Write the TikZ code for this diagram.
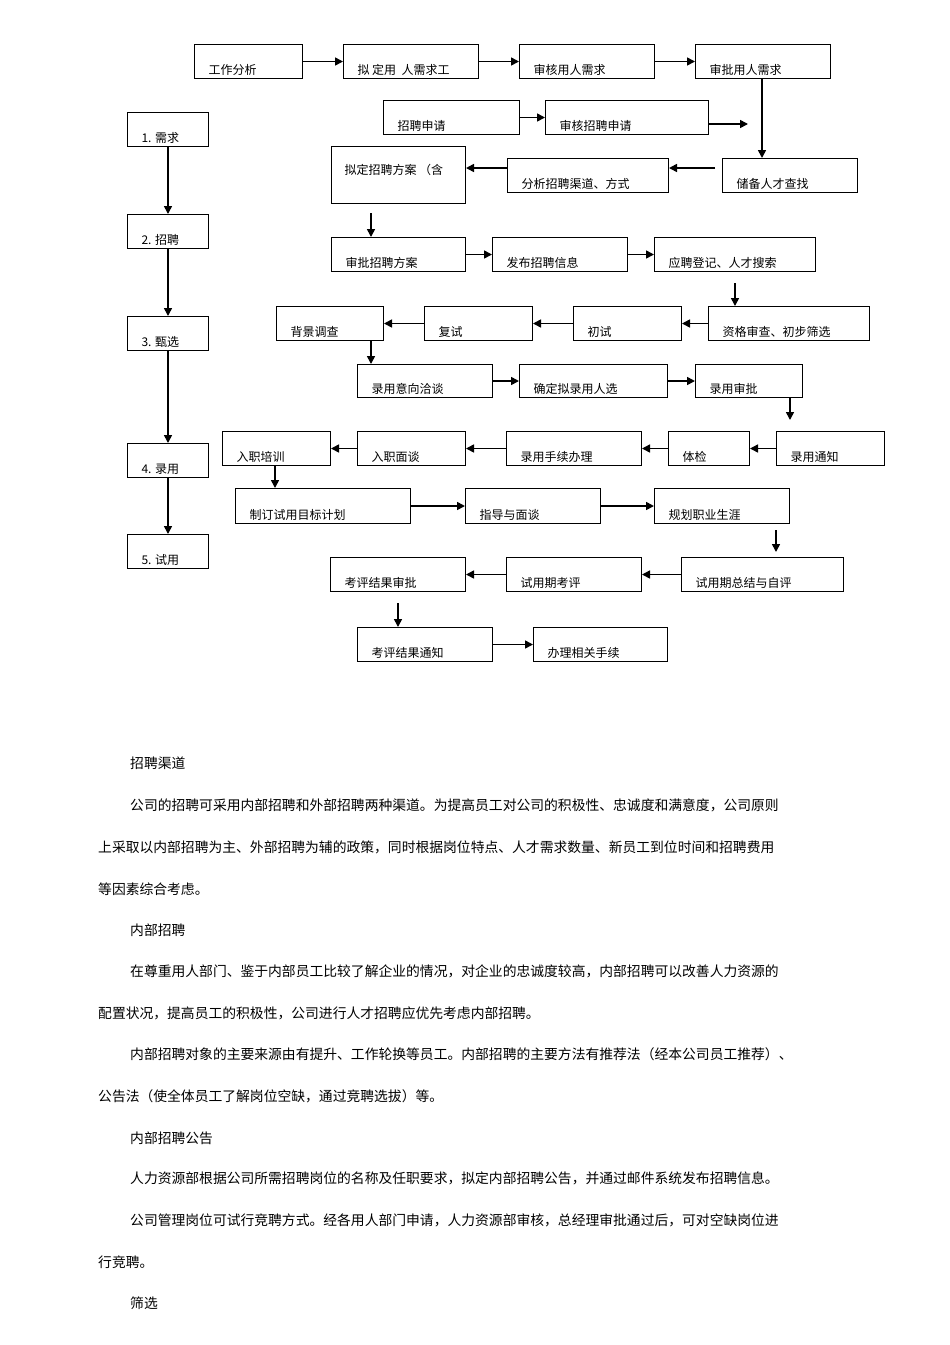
\documentclass[tikz,border=0pt]{standalone}
\usepackage{fontspec}
\setmainfont{Noto Sans CJK SC}
\usetikzlibrary{calc,arrows.meta}
\newcommand\bx[6]{%
  \node[box,minimum width=#4-#2,minimum height=#5-#3,anchor=north west] (#1) at (#2,#3) {};
  \node[anchor=base west,font=\fontsize{12}{13}\selectfont] (#1t) at ($(#1.south west)+(11,-5)$) {#6};}
\newcommand\txtline[3]{\node[anchor=base west,font=\fontsize{13.8}{15}\selectfont,inner sep=0] (p#1) at (#2,#1) {#3};}
\begin{document}
\begin{tikzpicture}[x=1pt,y=-1pt,
  box/.style={draw,line width=1pt,inner sep=0},
  ar/.style={line width=1.6pt,-{Triangle[length=8pt,width=8pt]}}]
\useasboundingbox (0,0) rectangle (950,1345);
\fill[white] (0,0) rectangle (950,1345);
\bx{a1}{194}{44}{302}{78}{工作分析}
\bx{a2}{343}{44}{478}{78}{拟 定用 \ 人需求工}
\bx{a3}{519}{44}{654}{78}{审核用人需求}
\bx{a4}{695}{44}{830}{78}{审批用人需求}
\bx{b1}{383}{100}{519}{134}{招聘申请}
\bx{b2}{545}{100}{708}{134}{审核招聘申请}
\bx{c1}{331}{146}{465}{203}{}
\node[anchor=base west,font=\fontsize{12}{13}\selectfont] at (341,174) {拟定招聘方案 （含};
\bx{c2}{507}{158}{668}{192}{分析招聘渠道、方式}
\bx{c3}{722}{158}{857}{192}{储备人才查找}
\bx{d1}{331}{237}{465}{271}{审批招聘方案}
\bx{d2}{492}{237}{627}{271}{发布招聘信息}
\bx{d3}{654}{237}{815}{271}{应聘登记、人才搜索}
\bx{e1}{276}{306}{383}{340}{背景调查}
\bx{e2}{424}{306}{532}{340}{复试}
\bx{e3}{573}{306}{681}{340}{初试}
\bx{e4}{708}{306}{869}{340}{资格审查、初步筛选}
\bx{f1}{357}{364}{492}{397}{录用意向洽谈}
\bx{f2}{519}{364}{667}{397}{确定拟录用人选}
\bx{f3}{695}{364}{802}{397}{录用审批}
\bx{g1}{222}{431}{330}{465}{入职培训}
\bx{g2}{357}{431}{465}{465}{入职面谈}
\bx{g3}{506}{431}{641}{465}{录用手续办理}
\bx{g4}{668}{431}{749}{465}{体检}
\bx{g5}{776}{431}{884}{465}{录用通知}
\bx{h1}{235}{488}{410}{523}{制订试用目标计划}
\bx{h2}{465}{488}{600}{523}{指导与面谈}
\bx{h3}{654}{488}{789}{523}{规划职业生涯}
\bx{i1}{330}{557}{465}{591}{考评结果审批}
\bx{i2}{506}{557}{641}{591}{试用期考评}
\bx{i3}{681}{557}{843}{591}{试用期总结与自评}
\bx{j1}{357}{627}{492}{661}{考评结果通知}
\bx{j2}{533}{627}{667}{661}{办理相关手续}
\bx{s1}{127}{112}{208}{146}{1. 需求}
\bx{s2}{127}{214}{208}{248}{2. 招聘}
\bx{s3}{127}{316}{208}{350}{3. 甄选}
\bx{s4}{127}{443}{208}{477}{4. 录用}
\bx{s5}{127}{534}{208}{568}{5. 试用}
% connectors
\draw[ar] (a1.east) -- (a2.west);
\draw[ar] (a2.east) -- (a3.west);
\draw[ar] (a3.east) -- (a4.west);
\draw[ar] (b1.east) -- (b2.west);
\coordinate (bf) at (748,124);
\draw[ar] (b2.east|-bf) -- (bf);
\draw[ar] (762,78) -- (762,158);
\coordinate (cf) at (715,168);
\draw[ar] (cf) -- (c2.east|-cf);
\draw[ar] (c2.west|-cf) -- (c1.east|-cf);
\coordinate (c1f) at (371,213);
\draw[ar] (c1f) -- (371,237);
\draw[ar] (d1.east) -- (d2.west);
\draw[ar] (d2.east) -- (d3.west);
\coordinate (df) at (735,283);
\draw[ar] (df) -- (735,306);
\draw[ar] (e4.west) -- (e3.east);
\draw[ar] (e3.west) -- (e2.east);
\draw[ar] (e2.west) -- (e1.east);
\draw[ar] (371,340) -- (371,364);
\draw[ar] (f1.east) -- (f2.west);
\draw[ar] (f2.east) -- (f3.west);
\coordinate (ff) at (790,420);
\draw[ar] (790,397) -- (ff);
\draw[ar] (g5.west) -- (g4.east);
\draw[ar] (g4.west) -- (g3.east);
\draw[ar] (g3.west) -- (g2.east);
\draw[ar] (g2.west) -- (g1.east);
\draw[ar] (275,465) -- (275,488);
\draw[ar] (h1.east) -- (h2.west);
\draw[ar] (h2.east) -- (h3.west);
\coordinate (hf) at (776,530);
\draw[ar] (hf) -- (776,552);
\draw[ar] (i3.west) -- (i2.east);
\draw[ar] (i2.west) -- (i1.east);
\coordinate (if) at (398,603);
\draw[ar] (if) -- (398,627);
\draw[ar] (j1.east) -- (j2.west);
\draw[ar] (s1.south) -- (s2.north);
\draw[ar] (s2.south) -- (s3.north);
\draw[ar] (s3.south) -- (s4.north);
\draw[ar] (s4.south) -- (s5.north);
% text
\txtline{768}{130}{招聘渠道}
\txtline{810}{130}{公司的招聘可采用内部招聘和外部招聘两种渠道。为提高员工对公司的积极性、忠诚度和满意度，公司原则}
\txtline{852}{98}{上采取以内部招聘为主、外部招聘为辅的政策，同时根据岗位特点、人才需求数量、新员工到位时间和招聘费用}
\txtline{894}{98}{等因素综合考虑。}
\txtline{935}{130}{内部招聘}
\txtline{976}{130}{在尊重用人部门、鉴于内部员工比较了解企业的情况，对企业的忠诚度较高，内部招聘可以改善人力资源的}
\txtline{1018}{98}{配置状况，提高员工的积极性，公司进行人才招聘应优先考虑内部招聘。}
\txtline{1059}{130}{内部招聘对象的主要来源由有提升、工作轮换等员工。内部招聘的主要方法有推荐法（经本公司员工推荐）、}
\txtline{1101}{98}{公告法（使全体员工了解岗位空缺，通过竞聘选拔）等。}
\txtline{1143}{130}{内部招聘公告}
\txtline{1183}{130}{人力资源部根据公司所需招聘岗位的名称及任职要求，拟定内部招聘公告，并通过邮件系统发布招聘信息。}
\txtline{1225}{130}{公司管理岗位可试行竞聘方式。经各用人部门申请，人力资源部审核，总经理审批通过后，可对空缺岗位进}
\txtline{1267}{98}{行竞聘。}
\txtline{1308}{130}{筛选}
\end{tikzpicture}
\end{document}
